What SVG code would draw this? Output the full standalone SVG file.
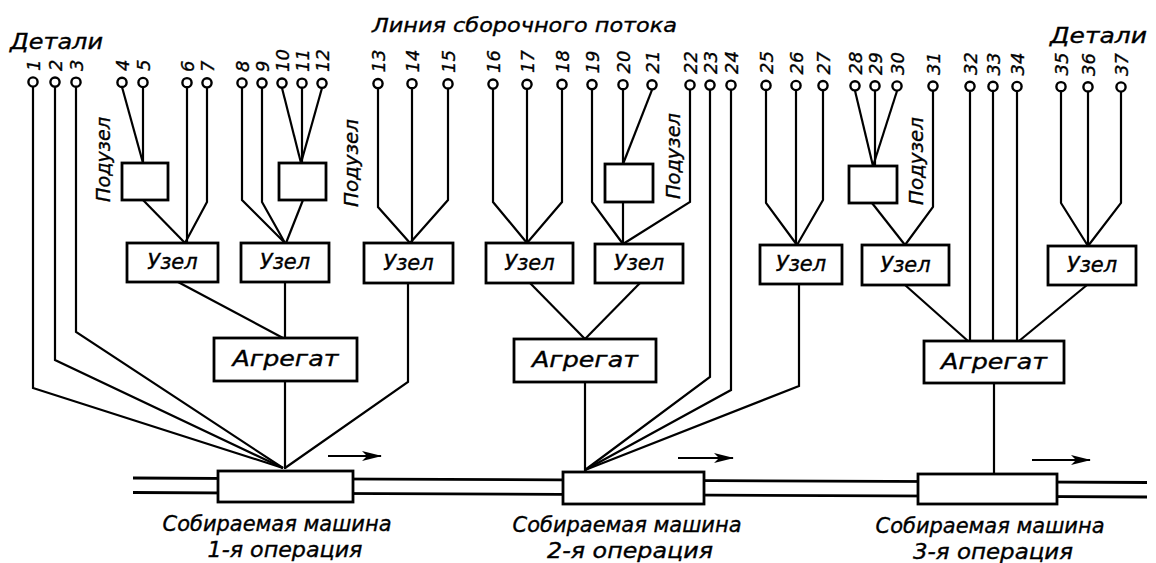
<svg xmlns="http://www.w3.org/2000/svg" width="1156" height="563" viewBox="0 0 1156 563">
<style>
  .ln{fill:none;stroke:#000;stroke-width:2.2;stroke-linejoin:miter}
  .bx{fill:#fff;stroke:#000;stroke-width:2.8}
  .pt{fill:#fff;stroke:#000;stroke-width:2.4}
  .t{font-family:"DejaVu Sans","Liberation Sans",sans-serif;font-style:italic;fill:#000;stroke:#000;stroke-width:0.35}
  .num{font-size:18px}
  .lbl{font-size:21px}
  .sub{font-size:19px}
  .rail{fill:none;stroke:#000;stroke-width:2.8}
</style>
<defs>
  <marker id="ah" markerUnits="userSpaceOnUse" viewBox="0 0 20 11" refX="19" refY="5.5" markerWidth="20" markerHeight="11" orient="auto">
    <path d="M0,0.5 L20,5.5 L0,10.5 L5,5.5 z" fill="#000"/>
  </marker>
</defs>
<rect width="1156" height="563" fill="#fff"/>

<g id="titles">
  <text class="t" x="372" y="32" font-size="20" textLength="305" lengthAdjust="spacingAndGlyphs">Линия сборочного потока</text>
  <text class="t" x="10" y="49" font-size="21" textLength="93" lengthAdjust="spacingAndGlyphs">Детали</text>
  <text class="t" x="1050" y="43" font-size="21" textLength="97" lengthAdjust="spacingAndGlyphs">Детали</text>
</g>

<g id="rails">
  <line class="rail" x1="133" y1="478" x2="1147" y2="482.5"/>
  <line class="rail" x1="133" y1="492.5" x2="1147" y2="497"/>
</g>

<g id="connectors">
  <path class="ln" d="M33,87 V388 L283,468"/>
  <path class="ln" d="M55,87 V360 L283,468"/>
  <path class="ln" d="M76,87 V332 L283,468"/>
  <path class="ln" d="M122,87 L143,163"/>
  <path class="ln" d="M143,87.5 V163"/>
  <path class="ln" d="M187,87.7 V243"/>
  <path class="ln" d="M207,87.8 V202 L185,243"/>
  <path class="ln" d="M143,200 L185,243"/>
  <path class="ln" d="M242,88 V200 L285,243"/>
  <path class="ln" d="M262,88 V202 L285,243"/>
  <path class="ln" d="M282,88 L301,163"/>
  <path class="ln" d="M302,88 V163"/>
  <path class="ln" d="M322,88 L301,163"/>
  <path class="ln" d="M303,200 L286,243"/>
  <path class="ln" d="M378,88.6 V207 L410,243"/>
  <path class="ln" d="M412,88.7 V243"/>
  <path class="ln" d="M448,88.9 V200 L410,243"/>
  <path class="ln" d="M178,282 L283,338"/>
  <path class="ln" d="M285,282 V338"/>
  <path class="ln" d="M285,381 V469"/>
  <path class="ln" d="M408,283 V382 L285,468"/>
  <path class="ln" d="M493,89 V202 L527,243"/>
  <path class="ln" d="M527,89 V243"/>
  <path class="ln" d="M562,89 V202 L527,243"/>
  <path class="ln" d="M592,89.6 V202 L623,244"/>
  <path class="ln" d="M623,89.7 V164"/>
  <path class="ln" d="M652,89.8 L623,164"/>
  <path class="ln" d="M623,202 V244"/>
  <path class="ln" d="M690,90 V202 L623,244"/>
  <path class="ln" d="M530,283 L585,339"/>
  <path class="ln" d="M640,283 L585,339"/>
  <path class="ln" d="M585,382 V471"/>
  <path class="ln" d="M710,90 V377 L585,470"/>
  <path class="ln" d="M731,90 V390 L585,470"/>
  <path class="ln" d="M766,90.4 V203 L797,245"/>
  <path class="ln" d="M796,90.5 V245"/>
  <path class="ln" d="M823,90.6 V200 L797,245"/>
  <path class="ln" d="M799,284 V386 L585,470"/>
  <path class="ln" d="M855,90.8 L873,166"/>
  <path class="ln" d="M875,90.9 V166"/>
  <path class="ln" d="M897,91 L873,166"/>
  <path class="ln" d="M872,203 L905,245"/>
  <path class="ln" d="M933,91 V207 L905,245"/>
  <path class="ln" d="M970,91.3 V341"/>
  <path class="ln" d="M993,91.4 V341"/>
  <path class="ln" d="M1017,91.5 V341"/>
  <path class="ln" d="M905,285 L968,341"/>
  <path class="ln" d="M1061,91.7 V203 L1088,246"/>
  <path class="ln" d="M1088,91.9 V246"/>
  <path class="ln" d="M1121,92 V203 L1088,246"/>
  <path class="ln" d="M1087,285 L1019,341"/>
  <path class="ln" d="M994,383 V474"/>
  <line class="ln" x1="328" y1="456" x2="381" y2="456" marker-end="url(#ah)"/>
  <line class="ln" x1="678" y1="458" x2="733" y2="458" marker-end="url(#ah)"/>
  <line class="ln" x1="1032" y1="460" x2="1090" y2="460" marker-end="url(#ah)"/>
</g>

<g id="parts">
  <g id="p1"><circle class="pt" cx="33" cy="82" r="4.6"/><text class="t num" transform="translate(39.5,71) rotate(-90)">1</text></g>
  <g id="p2"><circle class="pt" cx="55" cy="82.1" r="4.6"/><text class="t num" transform="translate(61.5,71) rotate(-90)">2</text></g>
  <g id="p3"><circle class="pt" cx="76" cy="82.2" r="4.6"/><text class="t num" transform="translate(82.5,71) rotate(-90)">3</text></g>
  <g id="p4"><circle class="pt" cx="122" cy="82.4" r="4.6"/><text class="t num" transform="translate(128.5,71) rotate(-90)">4</text></g>
  <g id="p5"><circle class="pt" cx="143" cy="82.5" r="4.6"/><text class="t num" transform="translate(149.5,71) rotate(-90)">5</text></g>
  <g id="p6"><circle class="pt" cx="187" cy="82.7" r="4.6"/><text class="t num" transform="translate(193.5,72) rotate(-90)">6</text></g>
  <g id="p7"><circle class="pt" cx="207" cy="82.8" r="4.6"/><text class="t num" transform="translate(213.5,72) rotate(-90)">7</text></g>
  <g id="p8"><circle class="pt" cx="242" cy="83" r="4.6"/><text class="t num" transform="translate(248.5,72) rotate(-90)">8</text></g>
  <g id="p9"><circle class="pt" cx="262" cy="83.1" r="4.6"/><text class="t num" transform="translate(268.5,72) rotate(-90)">9</text></g>
  <g id="p10"><circle class="pt" cx="282" cy="83.1" r="4.6"/><text class="t num" transform="translate(288.5,72) rotate(-90)">10</text></g>
  <g id="p11"><circle class="pt" cx="302" cy="83.2" r="4.6"/><text class="t num" transform="translate(308.5,72) rotate(-90)">11</text></g>
  <g id="p12"><circle class="pt" cx="322" cy="83.3" r="4.6"/><text class="t num" transform="translate(328.5,72) rotate(-90)">12</text></g>
  <g id="p13"><circle class="pt" cx="378" cy="83.6" r="4.6"/><text class="t num" transform="translate(384.5,72.5) rotate(-90)">13</text></g>
  <g id="p14"><circle class="pt" cx="412" cy="83.7" r="4.6"/><text class="t num" transform="translate(418.5,72.5) rotate(-90)">14</text></g>
  <g id="p15"><circle class="pt" cx="448" cy="83.9" r="4.6"/><text class="t num" transform="translate(454.5,73) rotate(-90)">15</text></g>
  <g id="p16"><circle class="pt" cx="493" cy="84.1" r="4.6"/><text class="t num" transform="translate(499.5,73) rotate(-90)">16</text></g>
  <g id="p17"><circle class="pt" cx="527" cy="84.3" r="4.6"/><text class="t num" transform="translate(533.5,73) rotate(-90)">17</text></g>
  <g id="p18"><circle class="pt" cx="562" cy="84.4" r="4.6"/><text class="t num" transform="translate(568.5,73) rotate(-90)">18</text></g>
  <g id="p19"><circle class="pt" cx="592" cy="84.6" r="4.6"/><text class="t num" transform="translate(598.5,73.5) rotate(-90)">19</text></g>
  <g id="p20"><circle class="pt" cx="623" cy="84.7" r="4.6"/><text class="t num" transform="translate(629.5,73.5) rotate(-90)">20</text></g>
  <g id="p21"><circle class="pt" cx="652" cy="84.8" r="4.6"/><text class="t num" transform="translate(658.5,73.5) rotate(-90)">21</text></g>
  <g id="p22"><circle class="pt" cx="690" cy="85" r="4.6"/><text class="t num" transform="translate(696.5,74) rotate(-90)">22</text></g>
  <g id="p23"><circle class="pt" cx="710" cy="85.1" r="4.6"/><text class="t num" transform="translate(716.5,74) rotate(-90)">23</text></g>
  <g id="p24"><circle class="pt" cx="731" cy="85.2" r="4.6"/><text class="t num" transform="translate(737.5,74) rotate(-90)">24</text></g>
  <g id="p25"><circle class="pt" cx="766" cy="85.4" r="4.6"/><text class="t num" transform="translate(772.5,74) rotate(-90)">25</text></g>
  <g id="p26"><circle class="pt" cx="796" cy="85.5" r="4.6"/><text class="t num" transform="translate(802.5,74.5) rotate(-90)">26</text></g>
  <g id="p27"><circle class="pt" cx="823" cy="85.6" r="4.6"/><text class="t num" transform="translate(829.5,74.5) rotate(-90)">27</text></g>
  <g id="p28"><circle class="pt" cx="855" cy="85.8" r="4.6"/><text class="t num" transform="translate(861.5,74.5) rotate(-90)">28</text></g>
  <g id="p29"><circle class="pt" cx="875" cy="85.9" r="4.6"/><text class="t num" transform="translate(881.5,75) rotate(-90)">29</text></g>
  <g id="p30"><circle class="pt" cx="897" cy="86" r="4.6"/><text class="t num" transform="translate(903.5,75) rotate(-90)">30</text></g>
  <g id="p31"><circle class="pt" cx="933" cy="86.1" r="4.6"/><text class="t num" transform="translate(939.5,75) rotate(-90)">31</text></g>
  <g id="p32"><circle class="pt" cx="970" cy="86.3" r="4.6"/><text class="t num" transform="translate(976.5,75) rotate(-90)">32</text></g>
  <g id="p33"><circle class="pt" cx="993" cy="86.4" r="4.6"/><text class="t num" transform="translate(999.5,75.5) rotate(-90)">33</text></g>
  <g id="p34"><circle class="pt" cx="1017" cy="86.5" r="4.6"/><text class="t num" transform="translate(1023.5,75.5) rotate(-90)">34</text></g>
  <g id="p35"><circle class="pt" cx="1061" cy="86.7" r="4.6"/><text class="t num" transform="translate(1067.5,75.5) rotate(-90)">35</text></g>
  <g id="p36"><circle class="pt" cx="1088" cy="86.9" r="4.6"/><text class="t num" transform="translate(1094.5,76) rotate(-90)">36</text></g>
  <g id="p37"><circle class="pt" cx="1121" cy="87" r="4.6"/><text class="t num" transform="translate(1127.5,76) rotate(-90)">37</text></g>
</g>

<g id="subassemblies">
  <g id="sub1"><rect class="bx" x="122" y="163" width="46" height="37"/><text class="t sub" transform="translate(110,202) rotate(-90)" textLength="85" lengthAdjust="spacingAndGlyphs">Подузел</text></g>
  <g id="sub2"><rect class="bx" x="279" y="163" width="47" height="37"/><text class="t sub" transform="translate(358,207) rotate(-90)" textLength="88" lengthAdjust="spacingAndGlyphs">Подузел</text></g>
  <g id="sub3"><rect class="bx" x="605" y="164" width="48" height="38"/><text class="t sub" transform="translate(680,199) rotate(-90)" textLength="86" lengthAdjust="spacingAndGlyphs">Подузел</text></g>
  <g id="sub4"><rect class="bx" x="849" y="166" width="48" height="37"/><text class="t sub" transform="translate(923,205) rotate(-90)" textLength="88" lengthAdjust="spacingAndGlyphs">Подузел</text></g>
</g>

<g id="units">
  <g id="u1"><rect class="bx" x="127" y="243" width="91" height="39"/><text class="t lbl" x="172.5" y="269" text-anchor="middle">Узел</text></g>
  <g id="u2"><rect class="bx" x="241" y="243" width="88" height="39"/><text class="t lbl" x="285" y="269" text-anchor="middle">Узел</text></g>
  <g id="u3"><rect class="bx" x="364" y="243" width="89" height="40"/><text class="t lbl" x="408.5" y="270" text-anchor="middle">Узел</text></g>
  <g id="u4"><rect class="bx" x="486" y="243" width="87" height="40"/><text class="t lbl" x="529.5" y="270" text-anchor="middle">Узел</text></g>
  <g id="u5"><rect class="bx" x="595" y="244" width="88" height="39"/><text class="t lbl" x="639" y="270" text-anchor="middle">Узел</text></g>
  <g id="u6"><rect class="bx" x="760" y="245" width="82" height="39"/><text class="t lbl" x="801" y="271" text-anchor="middle">Узел</text></g>
  <g id="u7"><rect class="bx" x="862" y="245" width="87" height="40"/><text class="t lbl" x="905.5" y="272" text-anchor="middle">Узел</text></g>
  <g id="u8"><rect class="bx" x="1048" y="246" width="88" height="39"/><text class="t lbl" x="1092" y="272" text-anchor="middle">Узел</text></g>
</g>

<g id="aggregates">
  <g id="a1"><rect class="bx" x="214" y="338" width="143" height="43"/><text class="t lbl" x="285.5" y="366" text-anchor="middle" textLength="106" lengthAdjust="spacingAndGlyphs">Агрегат</text></g>
  <g id="a2"><rect class="bx" x="514" y="339" width="142" height="43"/><text class="t lbl" x="585" y="367" text-anchor="middle" textLength="106" lengthAdjust="spacingAndGlyphs">Агрегат</text></g>
  <g id="a3"><rect class="bx" x="924" y="341" width="140" height="42"/><text class="t lbl" x="994" y="369" text-anchor="middle" textLength="106" lengthAdjust="spacingAndGlyphs">Агрегат</text></g>
</g>

<g id="machines">
  <g id="m1"><rect class="bx" x="218" y="471" width="135" height="31"/>
    <text class="t lbl" x="277" y="531" text-anchor="middle" textLength="229" lengthAdjust="spacingAndGlyphs">Собираемая машина</text>
    <text class="t lbl" x="285" y="557" text-anchor="middle" textLength="155" lengthAdjust="spacingAndGlyphs">1-я операция</text></g>
  <g id="m2"><rect class="bx" x="563" y="472" width="141" height="32"/>
    <text class="t lbl" x="627" y="532" text-anchor="middle" textLength="229" lengthAdjust="spacingAndGlyphs">Собираемая машина</text>
    <text class="t lbl" x="630" y="558" text-anchor="middle" textLength="166" lengthAdjust="spacingAndGlyphs">2-я операция</text></g>
  <g id="m3"><rect class="bx" x="918" y="474" width="139" height="30"/>
    <text class="t lbl" x="990" y="533" text-anchor="middle" textLength="229" lengthAdjust="spacingAndGlyphs">Собираемая машина</text>
    <text class="t lbl" x="993" y="559" text-anchor="middle" textLength="160" lengthAdjust="spacingAndGlyphs">3-я операция</text></g>
</g>
</svg>
